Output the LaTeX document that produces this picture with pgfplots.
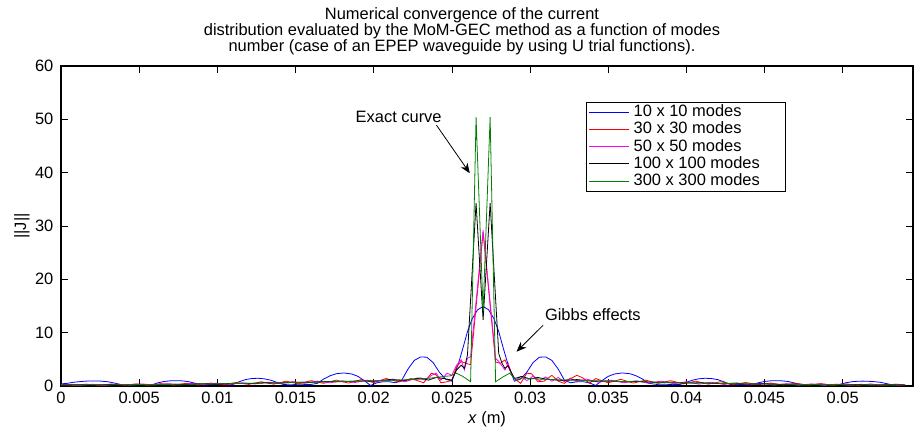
\documentclass[border=0pt]{standalone}
\usepackage{fontspec}
\setmainfont{Liberation Sans}
\usepackage{pgfplots}
\pgfplotsset{compat=1.18}
\usetikzlibrary{arrows.meta}
\definecolor{mgreen}{rgb}{0,0.5,0}
\definecolor{mred}{rgb}{1,0,0}
\definecolor{mmag}{rgb}{1,0,1}
\definecolor{mblue}{rgb}{0,0,1}
\begin{document}
\begin{tikzpicture}[font=\fontsize{16.5}{17}\selectfont]
\useasboundingbox (-61bp,-45bp) rectangle (853bp,386bp);
\begin{axis}[
  at={(0,0)}, anchor=south west,
  width=852bp, height=320bp, scale only axis,
  xmin=0, xmax=0.0545, ymin=0, ymax=60,
  scaled x ticks=false, scaled y ticks=false,
  xtick={0,0.005,0.01,0.015,0.02,0.025,0.03,0.035,0.04,0.045,0.05},
  xticklabels={0,0.005,0.01,0.015,0.02,0.025,0.03,0.035,0.04,0.045,0.05},
  ytick={0,10,20,30,40,50,60},
  yticklabels={0,10,20,30,40,50,60},
  tick align=inside, major tick length=7bp,
  axis line style={line width=1.1bp},
  every tick/.style={black, line width=0.6bp},
  tick label style={inner sep=0pt},
  xticklabel style={anchor=north, yshift=-6bp},
  yticklabel style={anchor=east, xshift=-7.5bp},
  xlabel={\textit{x} (m)},
  xlabel style={at={(axis description cs:0.5,0)}, anchor=base, yshift=-37bp, inner sep=0pt},
  ylabel={||J||},
  ylabel style={at={(axis description cs:0,0.5)}, anchor=center, yshift=39bp, inner sep=0pt},
  legend cell align=left,
  legend image code/.code={\draw[#1, line width=1.1bp] (0bp,0bp) -- (40bp,0bp);},
  legend style={at={(0.8498,0.8875)}, anchor=north east,
    inner xsep=2bp, inner ysep=1.5bp, row sep=0pt, column sep=3bp,
    nodes={inner sep=1bp, text height=12bp, text depth=3.2bp},
    font=\fontsize{16.5}{17}\selectfont},
  every axis plot/.append style={line width=0.8bp},
]
\addplot[color=mblue] coordinates {
(0,0.4) (0.0004,0.5) (0.0008,0.7) (0.0013,0.85) (0.0018,0.95) (0.0024,0.95) (0.0030,0.8) (0.0035,0.5) (0.0040,0.15) (0.0045,0.2) (0.0050,0.35) (0.0054,0.2) (0.0058,0.2) (0.0062,0.6) (0.0066,0.85) (0.0071,1.0) (0.0076,1.0) (0.0081,0.85) (0.0086,0.5) (0.0091,0.2) (0.0096,0.3) (0.0100,0.3) (0.0105,0.25) (0.0110,0.3) (0.0114,0.8) (0.0118,1.2) (0.0122,1.4) (0.0126,1.45) (0.0130,1.35) (0.0134,1.1) (0.0138,0.7) (0.0142,0.3) (0.0147,0.2) (0.0152,0.35) (0.0156,0.3) (0.0160,0.3) (0.0164,0.5) (0.0168,1.3) (0.0172,1.9) (0.0176,2.3) (0.0181,2.45) (0.0186,2.25) (0.0190,1.8) (0.0194,1.0) (0.0198,0.1) (0.0202,0.6) (0.0206,0.8) (0.0210,0.8) (0.0214,0.6) (0.0218,1.1) (0.0222,3.2) (0.0226,4.8) (0.0230,5.45) (0.0234,5.4) (0.0238,4.4) (0.0242,2.6) (0.0246,1.3) (0.0250,0.9) (0.0254,4.0) (0.0257,7.0) (0.0260,10.2) (0.0263,12.6) (0.02665,14.3) (0.0270,14.9) (0.02735,14.3) (0.0277,12.6) (0.0280,10.2) (0.0283,7.0) (0.0286,4.0) (0.0290,0.9) (0.0294,1.3) (0.0298,2.6) (0.0302,4.4) (0.0306,5.4) (0.0310,5.45) (0.0314,4.8) (0.0318,3.2) (0.0322,1.1) (0.0326,0.6) (0.0330,0.8) (0.0334,0.8) (0.0338,0.6) (0.0342,0.1) (0.0346,1.0) (0.0350,1.8) (0.0354,2.25) (0.0359,2.45) (0.0364,2.3) (0.0368,1.9) (0.0372,1.3) (0.0376,0.5) (0.0381,0.3) (0.0386,0.35) (0.0391,0.25) (0.0396,0.3) (0.0400,0.7) (0.0404,1.1) (0.0408,1.35) (0.0412,1.45) (0.0416,1.4) (0.0420,1.2) (0.0424,0.8) (0.0428,0.3) (0.0433,0.25) (0.0438,0.3) (0.0442,0.2) (0.0446,0.6) (0.0450,0.85) (0.0455,1.0) (0.0460,1.0) (0.0465,0.85) (0.0470,0.5) (0.0474,0.2) (0.0479,0.3) (0.0484,0.35) (0.0489,0.3) (0.0494,0.2) (0.0498,0.3) (0.0502,0.6) (0.0507,0.85) (0.0513,0.92) (0.0519,0.85) (0.0524,0.7) (0.0528,0.45) (0.0532,0.2) (0.0536,0.15) (0.0540,0.2)
};
\addlegendentry{10 x 10 modes}
\addplot[color=mred] coordinates {
(0,0.3) (0.0008,0.1) (0.0016,0.35) (0.0024,0.1) (0.0032,0.38) (0.0040,0.12) (0.0048,0.4) (0.0056,0.12) (0.0064,0.45) (0.0072,0.15) (0.0080,0.5) (0.0088,0.18) (0.0096,0.55) (0.0104,0.25) (0.0112,0.65) (0.0120,0.3) (0.0128,0.8) (0.0136,0.35) (0.0144,0.9) (0.0152,0.4) (0.0160,1.0) (0.0168,0.5) (0.0176,1.1) (0.0184,0.55) (0.0192,1.2) (0.0200,0.65) (0.0208,1.4) (0.0216,0.75) (0.0224,1.4) (0.0232,0.6) (0.0237,2.4) (0.0240,2.1) (0.0243,0.6) (0.0247,0.8) (0.0250,1.1) (0.0253,3.6) (0.0256,4.6) (0.0259,4.25) (0.0262,4.0) (0.0270,28.8) (0.0278,4.5) (0.0281,4.25) (0.0284,4.9) (0.0287,3.0) (0.0290,1.4) (0.0294,0.5) (0.0298,2.4) (0.0301,2.3) (0.0305,0.8) (0.0309,0.9) (0.0314,2.0) (0.0318,0.9) (0.0322,0.5) (0.0326,1.4) (0.0330,2.0) (0.0334,1.5) (0.0338,0.5) (0.0342,1.4) (0.0350,0.6) (0.0358,1.25) (0.0366,0.55) (0.0374,1.1) (0.0382,0.5) (0.0390,1.0) (0.0398,0.4) (0.0406,0.9) (0.0414,0.35) (0.0422,0.8) (0.0430,0.3) (0.0438,0.65) (0.0446,0.25) (0.0454,0.55) (0.0462,0.18) (0.0470,0.5) (0.0478,0.15) (0.0486,0.45) (0.0494,0.12) (0.0502,0.4) (0.0510,0.12) (0.0518,0.38) (0.0526,0.1) (0.0534,0.35) (0.0540,0.2)
};
\addlegendentry{30 x 30 modes}
\addplot[color=mmag] coordinates {
(0,0.2) (0.0004,0.3) (0.0012,0.12) (0.0020,0.32) (0.0028,0.12) (0.0036,0.35) (0.0044,0.15) (0.0052,0.38) (0.0060,0.18) (0.0068,0.42) (0.0076,0.2) (0.0084,0.48) (0.0092,0.25) (0.0100,0.55) (0.0108,0.3) (0.0116,0.62) (0.0124,0.38) (0.0132,0.72) (0.0140,0.45) (0.0148,0.82) (0.0156,0.5) (0.0164,0.92) (0.0172,0.6) (0.0180,1.0) (0.0188,0.65) (0.0196,1.1) (0.0204,0.75) (0.0212,1.3) (0.0220,0.8) (0.0228,1.5) (0.0233,1.1) (0.0237,2.0) (0.0240,2.4) (0.0243,1.1) (0.0247,2.4) (0.0250,2.0) (0.0253,3.9) (0.0256,4.9) (0.0258,3.0) (0.0260,5.2) (0.0262,5.5) (0.0270,29.2) (0.0278,5.2) (0.0280,4.6) (0.0284,3.0) (0.0286,4.25) (0.0288,2.4) (0.0291,1.1) (0.0294,1.8) (0.0298,1.0) (0.0302,1.9) (0.0306,1.0) (0.0310,1.7) (0.0314,0.9) (0.0318,1.6) (0.0322,0.8) (0.0326,1.5) (0.0330,0.75) (0.0336,1.3) (0.0344,0.7) (0.0352,1.1) (0.0360,0.6) (0.0368,1.0) (0.0376,0.5) (0.0384,0.9) (0.0392,0.42) (0.0400,0.8) (0.0408,0.35) (0.0416,0.7) (0.0424,0.28) (0.0432,0.6) (0.0440,0.22) (0.0448,0.5) (0.0456,0.18) (0.0464,0.42) (0.0472,0.15) (0.0480,0.38) (0.0488,0.12) (0.0496,0.35) (0.0504,0.12) (0.0512,0.32) (0.0520,0.1) (0.0528,0.3) (0.0536,0.12) (0.0540,0.2)
};
\addlegendentry{50 x 50 modes}
\addplot[color=black] coordinates {
(0,0.15) (0.001,0.25) (0.002,0.15) (0.003,0.28) (0.004,0.18) (0.005,0.3) (0.006,0.22) (0.007,0.35) (0.008,0.28) (0.009,0.42) (0.010,0.35) (0.011,0.5) (0.012,0.45) (0.013,0.6) (0.014,0.55) (0.015,0.7) (0.016,0.68) (0.017,0.85) (0.018,0.8) (0.019,0.95) (0.020,0.9) (0.021,1.2) (0.022,1.05) (0.023,1.5) (0.0235,1.1) (0.024,1.6) (0.0245,1.4) (0.0250,1.1) (0.0253,3.0) (0.0256,3.9) (0.0258,3.3) (0.0260,5.8) (0.02655,34.3) (0.0270,12.4) (0.02745,34.3) (0.0280,6.1) (0.0282,4.3) (0.0284,3.3) (0.0286,3.8) (0.0290,1.4) (0.0295,1.8) (0.0300,1.3) (0.0305,1.6) (0.031,1.3) (0.032,1.05) (0.033,1.2) (0.034,0.9) (0.035,0.95) (0.036,0.8) (0.037,0.85) (0.038,0.68) (0.039,0.7) (0.040,0.55) (0.041,0.6) (0.042,0.45) (0.043,0.5) (0.044,0.35) (0.045,0.42) (0.046,0.28) (0.047,0.35) (0.048,0.22) (0.049,0.3) (0.050,0.18) (0.051,0.28) (0.052,0.15) (0.053,0.25) (0.054,0.15)
};
\addlegendentry{100 x 100 modes}
\addplot[color=mgreen] coordinates {
(0,0.2) (0.002,0.22) (0.004,0.25) (0.006,0.28) (0.008,0.33) (0.010,0.4) (0.012,0.5) (0.014,0.6) (0.016,0.72) (0.018,0.85) (0.019,0.9) (0.020,0.98) (0.021,1.05) (0.022,1.15) (0.023,1.3) (0.024,1.6) (0.0245,1.8) (0.0249,1.9) (0.0253,2.4) (0.0257,1.8) (0.0262,0.8) (0.02655,50.4) (0.0270,14.0) (0.02745,50.4) (0.0278,0.8) (0.0283,1.75) (0.0287,2.4) (0.0291,1.1) (0.0295,1.5) (0.0300,1.4) (0.031,1.25) (0.032,1.15) (0.033,1.05) (0.034,0.98) (0.035,0.9) (0.036,0.85) (0.038,0.72) (0.040,0.6) (0.042,0.5) (0.044,0.4) (0.046,0.33) (0.048,0.28) (0.050,0.25) (0.052,0.22) (0.054,0.2)
};
\addlegendentry{300 x 300 modes\hspace*{22bp}}
\draw[-{Stealth[length=10bp,width=8bp]}, line width=0.8bp] (axis cs:0.02402,48.9) -- (axis cs:0.02615,39.9);
\draw[-{Stealth[length=10bp,width=8bp]}, line width=0.8bp] (axis cs:0.03084,11.4) -- (axis cs:0.02914,6.43);
\node[anchor=east, inner sep=0pt] at (axis cs:0.02436,50.4) {Exact curve};
\node[anchor=west, inner sep=0pt] at (axis cs:0.03095,13.3) {Gibbs effects};
\end{axis}
\node[anchor=base, inner sep=0pt] at (401bp,366.7bp) {Numerical convergence of the current};
\node[anchor=base, inner sep=0pt] at (401bp,350bp) {distribution evaluated by the MoM-GEC method as a function of modes};
\node[anchor=base, inner sep=0pt] at (401bp,334bp) {number (case of an EPEP waveguide by using U trial functions).};
\end{tikzpicture}
\end{document}
